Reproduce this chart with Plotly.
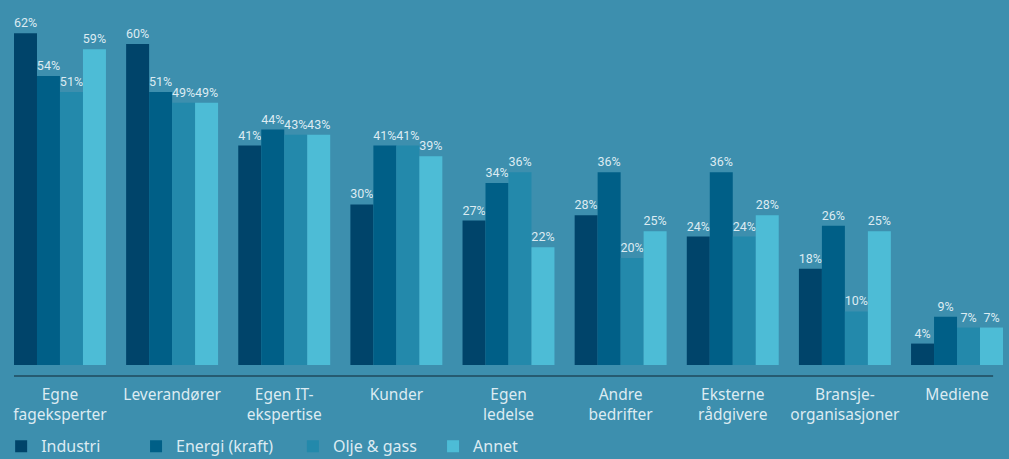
import plotly.graph_objects as go

categories = ["Egne<br>fageksperter", "Leverandører", "Egen IT-<br>ekspertise", "Kunder",
              "Egen<br>ledelse", "Andre<br>bedrifter", "Eksterne<br>rådgivere",
              "Bransje-<br>organisasjoner", "Mediene"]
series_names = ["Industri", "Energi (kraft)", "Olje & gass", "Annet"]
industri = [62, 60, 41, 30, 27, 28, 24, 18, 4]
energi = [54, 51, 44, 41, 34, 36, 36, 26, 9]
olje = [51, 49, 43, 41, 36, 20, 24, 10, 7]
annet = [59, 49, 43, 39, 22, 25, 28, 25, 7]
colors = ["#00446a", "#005f87", "#2389ab", "#4dbcd6"]
legend_x = [-0.013, 0.1234, 0.282, 0.4237]

BG = "#3d8fae"
TXT = "#dcebf2"
FONT = "Noto Sans"
LABEL_FONT = "Roboto"

fig = go.Figure()
legend_ids = ["legend", "legend2", "legend3", "legend4"]
for name, vals, col, lid in zip(series_names, [industri, energi, olje, annet], colors, legend_ids):
    fig.add_trace(go.Bar(
        x=categories, y=vals, name=name, marker_color=col, marker_line_width=0,
        text=[f"{v}%" for v in vals], textposition="outside", cliponaxis=False,
        constraintext="none",
        textfont=dict(size=12.5, color=TXT, family=LABEL_FONT), legend=lid,
    ))

layout_legends = {}
for lid, lx in zip(legend_ids, legend_x):
    layout_legends[lid] = dict(orientation="h", x=lx, xanchor="left", y=-0.176, yanchor="top",
                               font=dict(size=16, color=TXT, family=FONT),
                               bgcolor="rgba(0,0,0,0)")

fig.update_layout(
    width=1009, height=459,
    margin=dict(l=14, r=6, t=0, b=94, autoexpand=False),
    paper_bgcolor=BG, plot_bgcolor=BG,
    barmode="group", bargap=0.18, bargroupgap=0,
    font=dict(family=FONT, color=TXT, size=15),
    showlegend=True,
    uniformtext=dict(minsize=12.5, mode="show"),
    **layout_legends,
)
fig.update_xaxes(range=[-0.41, 8.41], showgrid=False, showline=False, zeroline=False,
                 ticks="outside", ticklen=15, tickcolor="rgba(0,0,0,0)",
                 tickfont=dict(size=15.5, color=TXT, family=FONT))
fig.update_yaxes(range=[0, 68.2], visible=False, showgrid=False, zeroline=False)
fig.add_shape(type="line", xref="paper", yref="paper", x0=0, x1=0.99, y0=-0.03, y1=-0.03,
              line=dict(color="#1f4a5c", width=1.5))

fig.write_html("out.html", config={"displayModeBar": False},
               post_script="document.body.style.margin='0';document.body.style.overflow='hidden';")
